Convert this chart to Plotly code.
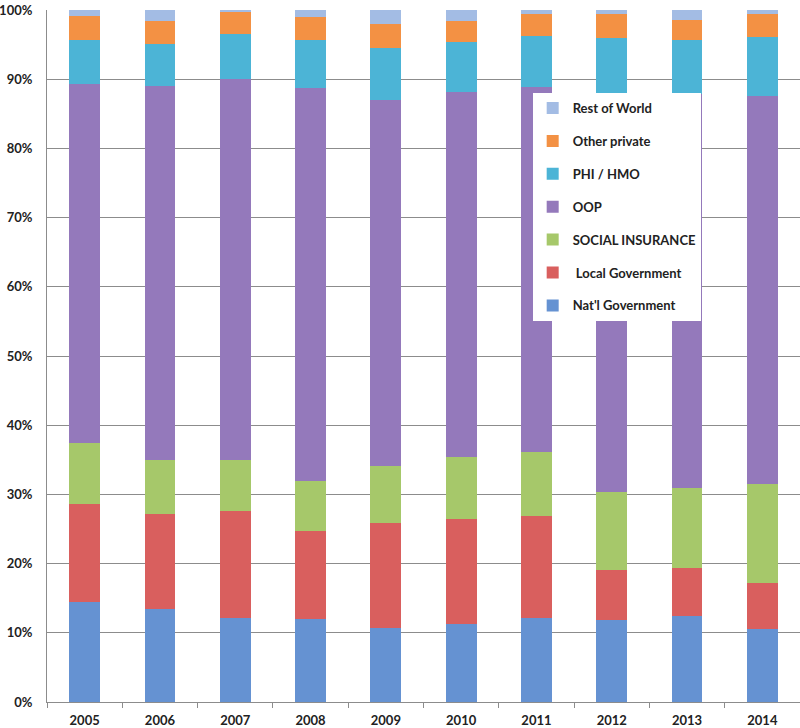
import plotly.graph_objects as go

years = ["2005", "2006", "2007", "2008", "2009", "2010", "2011", "2012", "2013", "2014"]

natl_gov = [14.4, 13.5, 12.1, 12.0, 10.7, 11.3, 12.2, 11.8, 12.5, 10.6]
local_gov = [14.2, 13.6, 15.5, 12.7, 15.1, 15.2, 14.7, 7.3, 6.9, 6.6]
social_ins = [8.8, 7.8, 7.4, 7.2, 8.3, 8.9, 9.2, 11.2, 11.5, 14.3]
oop = [51.9, 54.1, 55.1, 56.8, 52.9, 52.7, 52.8, 57.6, 57.0, 56.1]
phi_hmo = [6.4, 6.1, 6.5, 6.9, 7.5, 7.3, 7.3, 8.0, 7.8, 8.5]
other_private = [3.4, 3.3, 3.2, 3.4, 3.5, 3.0, 3.2, 3.5, 2.9, 3.3]
rest_of_world = [0.9, 1.6, 0.2, 1.0, 2.0, 1.6, 0.6, 0.6, 1.4, 0.6]

series = [
    ("Nat'l Government", natl_gov, "#6592d2"),
    (" Local Government", local_gov, "#d95f5e"),
    ("SOCIAL INSURANCE", social_ins, "#a6c86a"),
    ("OOP", oop, "#9479bb"),
    ("PHI / HMO", phi_hmo, "#4cb4d6"),
    ("Other private", other_private, "#f39144"),
    ("Rest of World", rest_of_world, "#a3bce4"),
]

fig = go.Figure()
n = len(series)
for i, (name, vals, col) in enumerate(series):
    fig.add_trace(go.Bar(
        x=years, y=vals, name=name, legendgroup=f"g{i}", legendrank=100 * (n - i),
        marker=dict(color=col, line=dict(width=0)),
    ))

font_bold = dict(family="Lato, Liberation Sans, sans-serif", size=13, color="#222222", weight="bold")

fig.update_layout(
    width=800, height=728,
    barmode="stack", bargap=0.59,
    plot_bgcolor="white", paper_bgcolor="white",
    margin=dict(l=47, r=0, t=10, b=26, autoexpand=False),
    font=font_bold,
    showlegend=True,
    legend=dict(
        x=0.645, y=0.88, xanchor="left", yanchor="top",
        bgcolor="white", borderwidth=0,
        traceorder="grouped", tracegroupgap=13,
        font=dict(family="Lato, Liberation Sans, sans-serif", size=13, color="#222222", weight="bold"),
    ),
    xaxis=dict(
        showline=True, linecolor="#8c8c8c", linewidth=1,
        ticks="outside", tickson="boundaries", ticklen=5, tickcolor="#8c8c8c",
        ticklabelstandoff=6,
        tickfont=font_bold, showgrid=False, automargin=False,
    ),
    yaxis=dict(
        range=[0, 100], dtick=10, ticksuffix="%",
        showline=True, linecolor="#8c8c8c", linewidth=1,
        showgrid=True, gridcolor="#8c8c8c", gridwidth=1,
        ticks="", ticklabelstandoff=11, automargin=False,
        ticklabeloverflow="allow",
        tickfont=font_bold, zeroline=False,
    ),
)

fig.write_html(
    "out.html",
    config={"displayModeBar": False},
    post_script="document.body.style.margin='0';document.body.style.overflow='hidden';",
)
